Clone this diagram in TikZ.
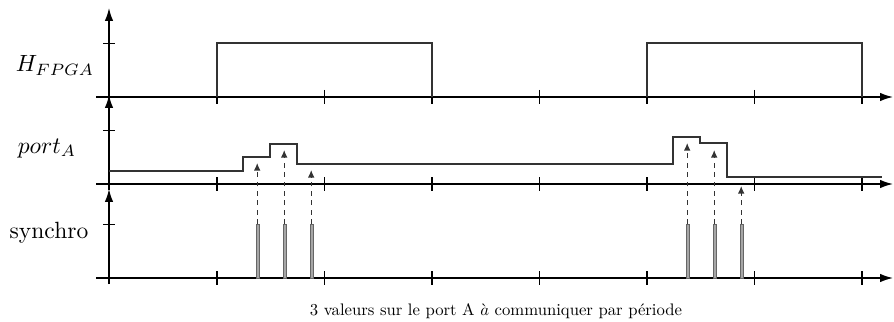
\documentclass[tikz,border=0pt]{standalone}
\usetikzlibrary{arrows.meta}

\begin{document}
\begin{tikzpicture}[x=0.4255pt, y=-0.4255pt,
  axe/.style={-{Latex[length=5.5pt,width=3.6pt]},line width=0.6pt},
  tic/.style={line width=0.8pt},
  sig/.style={line width=0.45pt,black!80},
  pulse/.style={draw=black!60,fill=black!35,line width=0.3pt},
  samp/.style={-{Latex[length=3.2pt,width=2.8pt]},dash pattern=on 2pt off 2pt,line width=0.5pt,black!80}]
\useasboundingbox (0,0) rectangle (894,322);
% axes
\foreach \y in {97,184,278} {
  \draw[axe] (96,\y) -- (893,\y);
  \draw[axe] (109,\y+6) -- (109,\y-89);
  \draw (103,\y-54) -- (115,\y-54);
  \foreach \x in {217,324.5,...,862} \draw[tic] (\x,\y-7) -- (\x,\y+7);
}
\node[anchor=base] (hlab) at (55,72) {$H_{FPGA}$};
\node[anchor=base] (plab) at (47,153) {$port_A$};
\node[anchor=base] (slab) at (49,238) {synchro};
\node[anchor=base,scale=0.71] (cap) at (496,315) {3 valeurs sur le port A $\grave{a}$ communiquer par période};
% signals
\draw[sig] (217,97) |- (432,43) -- (432,97);
\draw[sig] (647,97) |- (862,43) -- (862,97);
\draw[sig] (109,171) -| (243,157) -| (270,144) -| (297,164) -| (673,137) -| (700,143) -| (727,177) -- (882,177);
% synchro pulses and samples
\foreach \x/\t [count=\i] in {258/163,285/150,312/170,688/143,715/150,742/186} {
  \draw[pulse] (\x-1.2,278) rectangle (\x+1.2,224);
  \coordinate (s\i) at (\x-0.8,224);
  \coordinate (v\i) at (\x-0.8,\t);
  \draw[samp] (s\i) -- (v\i);
}
\end{tikzpicture}
\end{document}
